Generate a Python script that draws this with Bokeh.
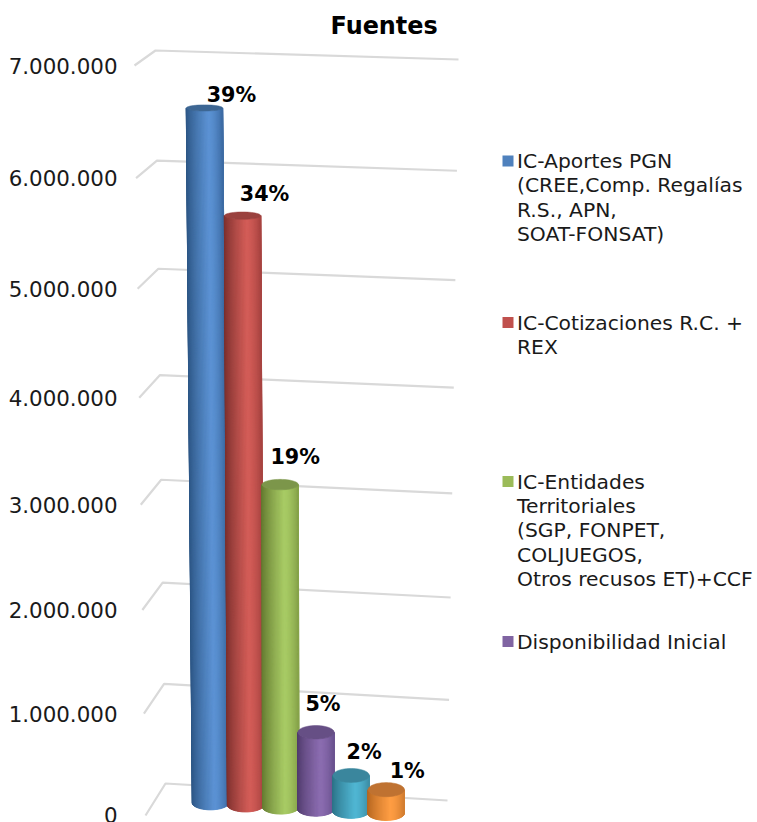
from bokeh.plotting import figure
from bokeh.models import Range1d, FixedTicker, Title
from bokeh.core.properties import value
from bokeh.embed import file_html
from bokeh.resources import INLINE
import math

categories = ["IC-Aportes PGN", "IC-Cotizaciones", "IC-Entidades", "Disponibilidad", "Otros 1", "Otros 2"]
values = [6570000, 5610000, 3130000, 760000, 355000, 235000]
percents = ["39%", "34%", "19%", "5%", "2%", "1%"]
tick_values = [0, 1000000, 2000000, 3000000, 4000000, 5000000, 6000000, 7000000]
tick_labels = ["0", "1.000.000", "2.000.000", "3.000.000", "4.000.000", "5.000.000", "6.000.000", "7.000.000"]
legend_labels = [
    ["IC-Aportes PGN", "(CREE,Comp. Regalías", "R.S., APN,", "SOAT-FONSAT)"],
    ["IC-Cotizaciones R.C. +", "REX"],
    ["IC-Entidades", "Territoriales", "(SGP, FONPET,", "COLJUEGOS,", "Otros recusos ET)+CCF"],
    ["Disponibilidad Inicial"],
]

# ---- styling / layout
FONT = "DejaVu Sans"
BRIGHT = ["#5B92D4", "#D35C57", "#A8CB64", "#8B6CB0", "#4FB6D3", "#FF9D42"]
EDGE_L = ["#2C5583", "#7A2F2D", "#62782F", "#4F3A6B", "#2B7186", "#B4651F"]
EDGE_R = ["#3E6CA4", "#A84441", "#86A34A", "#6B5390", "#3E8FA7", "#D47E30"]
CAP = ["#3D6693", "#9A413E", "#7C964A", "#664F85", "#3A869D", "#BF7231"]
LABEL_DX = [27, 22, 15, 7, 13, 21]
LABEL_DY = [-13, -22, -28, -28, -23, -19]
LEGEND_Y = [160.5, 322, 481, 641]
LEGEND_COL = ["#4F81BD", "#C0504D", "#9BBB59", "#8064A2"]
VMAX = 7000000.0
R = 1.06
FL = ((145, 815), (134, 65))
BL = ((165, 783), (155, 50))
BR = ((447, 800), (458, 59))
BAR_X0, BAR_DX = 0.195, 0.1245


def lift(v):
    t = v / VMAX
    return t / (t + (1 - t) * R)


def corner(c, v):
    t = v / VMAX
    return (c[0][0] + (c[1][0] - c[0][0]) * t, c[0][1] + (c[1][1] - c[0][1]) * lift(v))


def project(X, Z, v):
    """Chart-box coordinates (X across, Z depth, v value) to drawing coordinates."""
    f, b, r = corner(FL, v), corner(BL, v), corner(BR, v)
    return (f[0] + (b[0] - f[0]) * Z + (r[0] - b[0]) * X,
            f[1] + (b[1] - f[1]) * Z + (r[1] - b[1]) * X)


def hex_rgb(h):
    return tuple(int(h[i:i + 2], 16) for i in (1, 3, 5))


def mix(a, b, t):
    ca, cb = hex_rgb(a), hex_rgb(b)
    return "#%02x%02x%02x" % tuple(round(ca[i] + (cb[i] - ca[i]) * t) for i in range(3))


def shade(u, i):
    if u < 0.62:
        return mix(EDGE_L[i], BRIGHT[i], (u / 0.62) ** 0.8)
    return mix(BRIGHT[i], EDGE_R[i], ((u - 0.62) / 0.38) ** 1.5)


p = figure(width=757, height=822, output_backend="svg", toolbar_location=None,
           x_range=Range1d(126, 757), y_range=Range1d(822, 44),
           min_border_left=126, min_border_right=0, min_border_top=44, min_border_bottom=0)
p.outline_line_color = None
p.grid.visible = False
p.xaxis.visible = False
p.background_fill_color = "white"

p.title = Title(text="Fuentes", align="left", offset=204, text_font=FONT,
                text_font_size="23.9px", text_font_style="bold", text_color="#000000")

ax = p.yaxis[0]
tick_pos = [project(0, 0, v)[1] for v in tick_values]
ax.ticker = FixedTicker(ticks=tick_pos)
ax.major_label_overrides = {pos: lab for pos, lab in zip(tick_pos, tick_labels)}
ax.axis_line_color = None
ax.major_tick_line_color = None
ax.minor_tick_line_color = None
ax.major_label_standoff = 3
ax.major_label_text_font = FONT
ax.major_label_text_font_size = "21.4px"
ax.major_label_text_color = "#1a1a1a"

# gridlines: front-left, back-left, back-right
gx, gy = [], []
for v in tick_values:
    pts = [project(0, 0, v), project(0, 1, v), project(1, 1, v)]
    gx.append([q[0] for q in pts])
    gy.append([q[1] for q in pts])
p.multi_line(gx, gy, line_color="#d9d9d9", line_width=2.2)

# cylinders
W = 18.2
N = 48
for i, v in enumerate(values):
    X = BAR_X0 + BAR_DX * i
    bx, by = project(X, 0.5, 0)
    tx, ty = project(X, 0.5, v)
    rb = 7.0
    rt = 7.2 - 4.4 * v / VMAX
    xs, ys, cols = [], [], []
    for k in range(N):
        a0 = math.pi * (1 - k / N)
        a1 = math.pi * (1 - (k + 1) / N)
        xs.append([tx + W * math.cos(a0), tx + W * math.cos(a1),
                   bx + W * math.cos(a1), bx + W * math.cos(a0)])
        ys.append([ty + rt * math.sin(a0), ty + rt * math.sin(a1),
                   by + rb * math.sin(a1), by + rb * math.sin(a0)])
        cols.append(shade(0.5 - 0.5 * math.cos(math.pi * (k + 0.5) / N), i))
    p.patches(xs, ys, fill_color=cols, line_color=cols, line_width=1)
    angs = [2 * math.pi * k / 48 for k in range(48)]
    p.patch([tx + W * math.cos(a) for a in angs], [ty + rt * math.sin(a) for a in angs],
            fill_color=CAP[i], line_color=CAP[i], line_width=0.5)
    p.text([tx + LABEL_DX[i]], [ty + LABEL_DY[i]], text=[percents[i]],
           text_font=value(FONT), text_font_size="20.7px", text_font_style="bold",
           text_align="center", text_baseline="middle", text_color="#000000")

# legend
LINE = 24.4
for y0, lines, col in zip(LEGEND_Y, legend_labels, LEGEND_COL):
    p.scatter([507.5], [y0], marker="square", size=11, fill_color=col, line_color=None)
    p.text([516.5] * len(lines), [y0 + LINE * j for j in range(len(lines))], text=lines,
           text_font=value(FONT), text_font_size="20.3px", text_align="left",
           text_baseline="middle", text_color="#1a1a1a")

open("out.html", "w").write(file_html(p, INLINE))
